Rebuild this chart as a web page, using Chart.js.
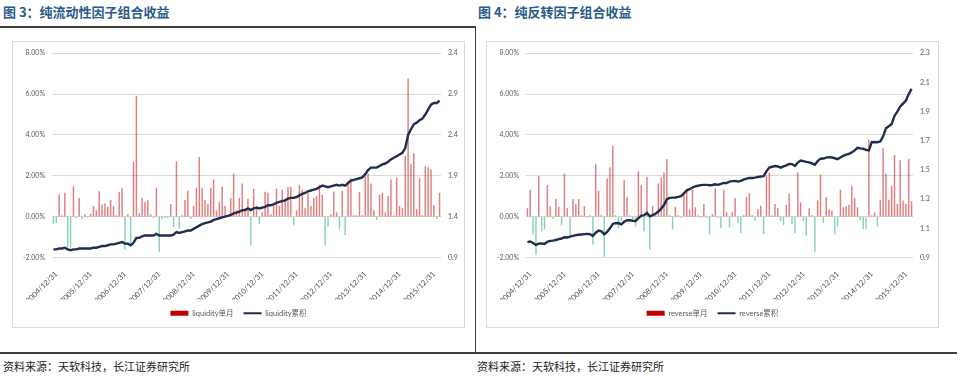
<!DOCTYPE html>
<html>
<head>
<meta charset="utf-8">
<script src="https://cdn.jsdelivr.net/npm/chart.js@4.4.1/dist/chart.umd.min.js"></script>
<style>
  body { margin: 0; width: 960px; height: 376px; background: #fff; position: relative; overflow: hidden;
         font-family: "Noto Sans CJK SC", sans-serif; }
  .title { position: absolute; top: 2px; font-size: 13px; font-weight: bold; color: #2A5B8C; white-space: nowrap; }
  .src { position: absolute; top: 358px; font-size: 11px; color: #222; white-space: nowrap; }
  .rule { position: absolute; background: #404040; }
  .box { position: absolute; top: 42px; width: 451px; height: 285px; outline: 1.5px solid #D9D9D9; }
</style>
</head>
<body>
<div class="title" style="left:3px">图 3：纯流动性因子组合收益</div>
<div class="title" style="left:478px">图 4：纯反转因子组合收益</div>
<div class="rule" style="left:0;top:26px;width:476px;height:2px"></div>
<div class="rule" style="left:475px;top:27px;width:1px;height:327px"></div>
<div class="rule" style="left:0;top:352px;width:957px;height:2px"></div>
<div class="box" style="left:13px"><canvas id="c1" width="451" height="285"></canvas></div>
<div class="box" style="left:487px"><canvas id="c2" width="451" height="285"></canvas></div>
<div class="src" style="left:3px">资料来源：天软科技，长江证券研究所</div>
<div class="src" style="left:477px">资料来源：天软科技，长江证券研究所</div>
<script>
// monthly returns (%), 2004/12 .. 2016/03
const liquidityMonthly = [
  -0.35, -0.3, 1.05, 0.05, 1.15, -1.5, -1.5, 1.48, -0.05, 0.9,
  -0.1, 0.1, -0.05, 0.12, 0.5, 0.3, 1.23, 0.56, 0.63, 0.47,
  0.8, 0.5, 0.05, 1.2, 1.37, -1.6, 0.1, -1.3, 2.66, 5.9,
  0.15, 0.9, 0.7, 0.78, 0.1, -0.05, 1.4, -1.7, -0.1, -0.05,
  -0.05, 0.6, -0.5, 2.7, -0.55, 0.05, 0.8, 1.25, -0.1, 0.5,
  1.4, 2.9, 1.4, 0.8, 0.6, 1.4, 1.8, 0.3, 0.7, 1.45,
  0.5, 0.05, 0.9, 2.1, 0.3, 0.9, 1.6, 0.4, 0.85, -1.4,
  1.35, 0.5, -0.35, 0.2, 1.2, 1.15, 0.1, 0.5, 1.35, 0.5,
  1.3, 0.8, 1.45, 1.45, -0.4, 0.3, 1.55, 1.3, 0.4, 1.15,
  0.5, 0.9, 1.0, 1.55, 1.05, -1.4, -0.45, 0.1, 1.2, 0.2,
  -0.6, 1.25, -0.9, 1.7, 1.85, 0.05, 0.05, 1.2, 0.05, 1.95,
  2.1, 1.6, 0.3, -0.15, 1.05, 1.15, 0.2, 1.0, 1.8, 0.05,
  1.9, 0.5, 0.4, 2.95, 6.75, 2.55, 3.1, 0.35, 1.85, 0.05,
  2.45, 2.4, 2.3, 0.55, -0.1, 1.15
];
const liquidityCum = [
  1.00, 1.00, 1.01, 1.01, 1.02, 1.00, 0.99, 1.00, 1.00, 1.01,
  1.01, 1.01, 1.01, 1.01, 1.02, 1.02, 1.03, 1.04, 1.04, 1.05,
  1.06, 1.06, 1.07, 1.08, 1.09, 1.07, 1.07, 1.05, 1.08, 1.14,
  1.14, 1.16, 1.17, 1.17, 1.17, 1.17, 1.19, 1.17, 1.17, 1.17,
  1.17, 1.17, 1.18, 1.21, 1.20, 1.21, 1.22, 1.23, 1.23, 1.25,
  1.27, 1.29, 1.31, 1.32, 1.33, 1.34, 1.36, 1.37, 1.38, 1.39,
  1.40, 1.41, 1.42, 1.44, 1.45, 1.46, 1.48, 1.48, 1.50, 1.48,
  1.50, 1.51, 1.50, 1.51, 1.52, 1.54, 1.54, 1.55, 1.57, 1.58,
  1.59, 1.60, 1.62, 1.63, 1.63, 1.64, 1.66, 1.68, 1.69, 1.71,
  1.72, 1.73, 1.74, 1.76, 1.78, 1.77, 1.76, 1.77, 1.78, 1.79,
  1.78, 1.79, 1.78, 1.81, 1.84, 1.85, 1.86, 1.87, 1.88, 1.92,
  1.97, 2.00, 2.00, 2.00, 2.02, 2.04, 2.05, 2.07, 2.10, 2.12,
  2.14, 2.16, 2.18, 2.24, 2.40, 2.47, 2.53, 2.55, 2.58, 2.60,
  2.65, 2.71, 2.77, 2.79, 2.79, 2.82
];
const reverseMonthly = [
  0.4, 1.3, -0.86, -1.85, 1.97, -0.7, -0.6, 1.53, 0.49, -0.1,
  0.85, 0.47, -0.4, 2.1, 0.4, -0.9, 0.85, 0.6, 0.85, 0.05,
  0.49, -0.05, 0.05, -1.35, 2.55, 1.25, 0.05, -1.95, 1.85, 2.4,
  3.45, 0.05, -0.55, -0.2, 1.77, 0.95, 0.05, -0.1, -0.45, 2.2,
  1.53, -0.7, 1.93, -1.6, 0.49, 0.05, 1.6, 1.9, 2.15, 2.8,
  0.05, -0.6, 0.47, 0.05, -0.05, 1.05, 1.25, 0.33, 1.3, 0.44,
  0.05, -0.05, 0.6, -0.05, -0.85, 0.1, 1.37, -0.05, -0.55, 1.3,
  0.2, -0.5, 0.2, 0.9, -0.3, -0.8, 0.05, 0.95, 1.15, 0.05,
  -0.2, 0.35, 0.52, -0.83, 2.0, 2.15, 0.05, 0.6, 0.4, -0.2,
  -0.4, 0.55, 1.12, -0.35, -0.8, 2.15, 0.68, -0.2, -0.9, 0.4,
  0.05, -1.7, 0.77, 2.05, -0.3, 0.95, 0.35, 0.28, -0.85, -0.45,
  1.3, 0.44, 0.5, 0.57, 1.5, 0.9, 0.44, -0.15, -0.6, -0.6,
  3.75, 0.05, 0.2, -0.45, 0.81, 3.33, 2.1, 0.81, 1.47, 3.0,
  0.6, 2.75, 0.77, 0.6, 2.8, 0.74
];
const reverseCum = [
  1.005, 1.01, 1.00, 0.986, 0.995, 0.997, 0.993, 1.008, 1.014, 1.016,
  1.02, 1.026, 1.03, 1.039, 1.037, 1.043, 1.048, 1.053, 1.056, 1.058,
  1.06, 1.061, 1.06, 1.048, 1.07, 1.084, 1.08, 1.059, 1.075, 1.10,
  1.13, 1.135, 1.136, 1.127, 1.145, 1.155, 1.155, 1.152, 1.15, 1.17,
  1.186, 1.19, 1.205, 1.182, 1.19, 1.20, 1.215, 1.235, 1.259, 1.30,
  1.309, 1.31, 1.311, 1.315, 1.32, 1.34, 1.36, 1.368, 1.38, 1.388,
  1.392, 1.396, 1.398, 1.398, 1.395, 1.397, 1.402, 1.398, 1.405, 1.411,
  1.41, 1.42, 1.423, 1.425, 1.42, 1.425, 1.434, 1.44, 1.445, 1.445,
  1.447, 1.452, 1.455, 1.457, 1.49, 1.516, 1.522, 1.527, 1.524, 1.516,
  1.525, 1.532, 1.541, 1.54, 1.527, 1.55, 1.564, 1.56, 1.555, 1.552,
  1.545, 1.536, 1.56, 1.577, 1.578, 1.584, 1.588, 1.585, 1.58, 1.574,
  1.585, 1.597, 1.605, 1.61, 1.62, 1.634, 1.652, 1.648, 1.645, 1.638,
  1.634, 1.69, 1.691, 1.69, 1.695, 1.73, 1.786, 1.80, 1.815, 1.87,
  1.90, 1.935, 1.955, 1.975, 2.02, 2.055
];
const yearTicks = [
  '2004/12/31', '2005/12/31', '2006/12/31', '2007/12/31', '2008/12/31', '2009/12/31',
  '2010/12/31', '2011/12/31', '2012/12/31', '2013/12/31', '2014/12/31', '2015/12/31'
];

// month-end dates starting 2004/12
const months = [];
for (let i = 0; i < liquidityMonthly.length; i++) {
  const y = 2004 + Math.floor((11 + i) / 12);
  const m = ((11 + i) % 12) + 1;
  const d = new Date(y, m, 0).getDate();
  months.push(`${y}/${String(m).padStart(2, '0')}/${d}`);
}

const RED = '#C00000';
const BAR_RED = 'rgba(205,40,40,0.6)';
const BAR_GREEN = 'rgba(40,175,115,0.55)';
const NAVY = '#1F2D4F';
const GREY = '#595959';
const FONT = 'Lato, "Noto Sans CJK SC", sans-serif';

const makeChart = (id, name, monthly, cum, rMin, rMax, rStep, rightW) => {
  new Chart(document.getElementById(id), {
    type: 'bar',
    data: {
      labels: months,
      datasets: [
        {
          type: 'bar',
          label: name + '单月',
          data: monthly,
          yAxisID: 'y',
          order: 2,
          backgroundColor: monthly.map((v) => (v < 0 ? BAR_GREEN : BAR_RED)),
          barThickness: 0.8,
          pointStyle: 'rect',
        },
        {
          type: 'line',
          label: name + '累积',
          data: cum,
          yAxisID: 'y1',
          order: 1,
          borderColor: NAVY,
          backgroundColor: NAVY,
          borderWidth: 2.4,
          pointRadius: 0,
          pointBorderWidth: 2,
          pointStyle: 'line',
          tension: 0,
        },
      ],
    },
    options: {
      responsive: false,
      animation: false,
      layout: { padding: { top: 10, left: 0, right: 0, bottom: 0 } },
      plugins: {
        tooltip: { enabled: false },
        legend: {
          position: 'bottom',
          labels: {
            usePointStyle: true,
            pointStyleWidth: 18,
            boxHeight: 5,
            padding: 10,
            color: GREY,
            font: { size: 7.5, family: FONT },
            sort: (a, b) => a.datasetIndex - b.datasetIndex,
            generateLabels: (chart) =>
              Chart.defaults.plugins.legend.labels.generateLabels(chart).map((l) => {
                if (l.datasetIndex === 0) {
                  l.fillStyle = RED;
                  l.strokeStyle = RED;
                  l.lineWidth = 0;
                } else {
                  l.strokeStyle = NAVY;
                  l.lineWidth = 2;
                }
                return l;
              }),
          },
        },
      },
      scales: {
        x: {
          grid: { display: false },
          border: { display: false },
          ticks: {
            autoSkip: false,
            maxRotation: 45,
            minRotation: 45,
            padding: 4,
            labelOffset: 3,
            color: '#4A4A4A',
            font: { size: 7.5, family: FONT },
            callback: function (v) {
              const l = this.getLabelForValue(v);
              return yearTicks.includes(l) ? l : '';
            },
          },
          afterFit: (s) => { s.height = 42; },
        },
        y: {
          position: 'left',
          min: -2,
          max: 8,
          ticks: {
            stepSize: 2,
            padding: 7,
            color: GREY,
            font: { size: 7, family: FONT },
            callback: (v) => v.toFixed(2) + '%',
          },
          grid: { color: '#D9D9D9', drawTicks: false },
          border: { display: false },
          afterFit: (s) => { s.width = 39; },
        },
        y1: {
          position: 'right',
          min: rMin,
          max: rMax,
          ticks: {
            stepSize: rStep,
            padding: 7,
            color: GREY,
            font: { size: 7, family: FONT },
            callback: (v) => v.toFixed(1),
          },
          grid: { display: false, drawTicks: false },
          border: { display: false },
          afterFit: (s) => { s.width = rightW; },
        },
      },
    },
  });
};

makeChart('c1', 'liquidity', liquidityMonthly, liquidityCum, 0.9, 3.4, 0.5, 23);
makeChart('c2', 'reverse', reverseMonthly, reverseCum, 0.9, 2.3, 0.2, 25);
</script>
</body>
</html>
